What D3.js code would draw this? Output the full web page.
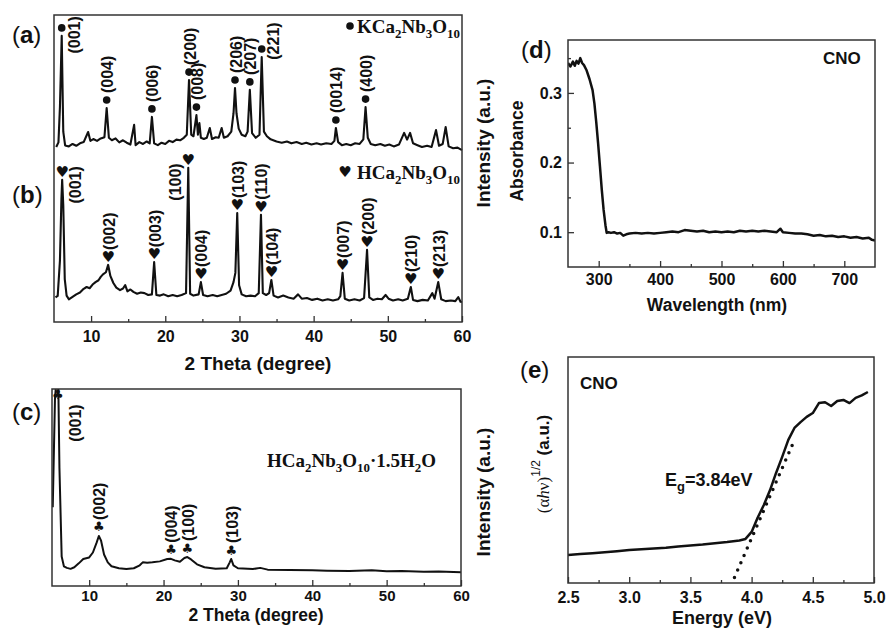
<!DOCTYPE html>
<html><head><meta charset="utf-8">
<script src="https://d3js.org/d3.v7.min.js"></script>
<style>
body { margin: 0; background: #fff; }
text { font-family: "Liberation Sans", Arial, sans-serif; fill: #111; }
.serif { font-family: "Liberation Serif", "Times New Roman", serif; }
.sym { font-family: "DejaVu Sans", sans-serif; }
</style></head><body>
<svg width="887" height="628"></svg>
<script>
// ---- data ----
// (a) KCa2Nb3O10 XRD, [2theta, intensity]
var kcnXrd = [[5.3,57],[5.6,58.5],[5.8,70],[6.04,93.2],[6.25,62],[6.5,57.5],[7,57.2],[7.5,58],[8,57.4],[8.5,58.2],[9,58.6],[9.6,61.9],[9.9,59],[10.3,59.6],[10.8,59],[11.3,59.8],[11.8,60.2],[12.1,69.7],[12.4,60],[12.8,59.2],[13.3,59.8],[13.8,58.5],[14.3,59.2],[14.8,58.4],[15.3,57.8],[15.8,64.2],[16.0,57.6],[16.5,58.6],[17,58],[17.5,58.8],[17.9,58.2],[18.2,66.8],[18.5,58.2],[19,57.6],[19.5,58.4],[20,58],[20.5,59],[21,58.6],[21.5,59.4],[22,59.2],[22.5,60],[22.9,61],[23.2,78.8],[23.5,61],[23.8,60.5],[24.2,67.4],[24.4,61],[24.6,64.8],[24.8,60],[25.2,59.6],[25.6,60],[26,63.2],[26.3,59.6],[26.8,60.2],[27.2,60],[27.6,63.2],[27.9,60],[28.4,60.5],[28.9,62],[29.2,68],[29.4,76.2],[29.6,68],[29.9,63],[30.3,61],[30.8,60.5],[31.1,62],[31.4,75.6],[31.7,61.5],[32.2,60],[32.7,61],[33.0,86.3],[33.3,62],[33.7,60.5],[34.2,59.5],[35,58.8],[35.7,58.4],[36.4,58.8],[37,58.2],[37.7,58.6],[38.4,58],[39,58.4],[39.7,57.8],[40.4,58.2],[41,57.8],[41.7,58.2],[42.4,58],[42.8,59],[43.0,63.2],[43.3,58.6],[43.8,57.6],[44.4,58],[45,57.6],[45.6,58.2],[46.2,58],[46.7,59.5],[47.0,70],[47.3,60],[47.7,58],[48.3,57.6],[49,58],[49.6,57.4],[50.2,57.8],[50.8,57.2],[51.5,57.8],[52.2,61.6],[52.6,59.4],[53.0,61.6],[53.4,58.2],[54,57.6],[54.6,57],[55.3,57.4],[55.9,57],[56.5,62.5],[56.9,57.4],[57.4,58],[57.8,63.5],[58.2,57.2],[58.8,56.6],[59.4,56.8],[60,56]];
// (b) HCa2Nb3O10 XRD
var hcnXrd = [[5.2,8],[5.5,8.5],[5.8,20],[6.0,40],[6.1,46.3],[6.25,38],[6.45,14],[6.7,8.6],[7,7.4],[7.5,8.2],[8,9],[8.5,9.6],[9,10.8],[9.4,11.4],[9.8,11],[10.2,12.2],[10.6,13],[11,13.6],[11.3,14.7],[11.6,15.5],[12,16.2],[12.3,18.6],[12.6,15],[13,12.7],[13.4,11.2],[13.9,10.4],[14.3,10.9],[14.6,12],[14.9,10],[15.3,10.6],[15.7,9.8],[16.2,9.2],[16.7,9.6],[17.2,9.4],[17.7,8.8],[18.2,9],[18.5,19.5],[18.8,8.8],[19.3,8.6],[19.8,9],[20.4,8.4],[21,8.8],[21.6,8.4],[22.2,8.8],[22.8,9.4],[23.1,50.2],[23.35,9.2],[23.8,8.6],[24.5,9],[24.8,13],[25.1,8.8],[25.7,8.4],[26.4,8.8],[27,8.4],[27.6,8.8],[28.2,9.2],[28.8,10.2],[29.2,13],[29.45,16],[29.7,35.5],[29.95,12],[30.3,9],[30.9,8.4],[31.5,8.6],[32.1,8.4],[32.6,9.4],[32.9,34.9],[33.15,9.4],[33.6,8.8],[34.0,9.4],[34.3,13.7],[34.6,8.6],[35.2,8],[35.9,8.6],[36.6,8],[37.3,7.6],[37.9,9],[38.4,7.6],[39.1,7.8],[39.8,7.2],[40.5,7.6],[41.2,7],[41.9,7.4],[42.6,7],[43.3,7.4],[43.6,8.4],[43.9,16],[44.2,7.6],[44.8,7],[45.5,7.4],[46.2,7],[46.8,7.8],[47.2,23.5],[47.5,8],[48,7.2],[48.6,7.6],[49.2,7.4],[49.7,8.8],[50.1,7.6],[50.7,7],[51.4,7.4],[52,7],[52.7,7.6],[53.1,11.4],[53.4,7.2],[54,6.8],[54.7,7.2],[55.4,7],[56.0,9.4],[56.3,7.6],[56.8,13],[57.2,7.4],[57.8,6.8],[58.5,7],[59.1,6.8],[59.5,8.1],[59.8,6.6],[60,6.5]];
// (c) HCa2Nb3O10·1.5H2O XRD
var hydXrd = [[5.1,40],[5.4,95],[5.8,115],[6.0,60],[6.3,15],[6.6,10],[7,9.2],[7.5,8.7],[8,9.5],[8.6,11.5],[9.2,13.7],[10,14.5],[10.5,17],[11,22],[11.3,25.4],[11.6,23],[12,16],[12.5,12],[13,10],[14,9],[15,8.6],[16,9],[16.8,10.5],[17.2,12],[17.8,11.8],[18.5,12],[19.5,12.5],[20.5,13.7],[21,13.8],[21.5,13],[22.2,12.3],[22.8,14.2],[23.2,14.7],[23.7,13.5],[24.5,11],[25.5,9.5],[27,8.8],[28.5,9],[28.9,12],[29.1,13.7],[29.4,10.5],[30,9],[32,8.6],[33,9.2],[34,8.3],[37,8.1],[40,8],[42,7.8],[45,7.6],[48,8],[50,7.5],[52,7.6],[55,7.2],[57,7.3],[60,7.0]];

var peaksA = [[6.04,"(001)"],[12.1,"(004)"],[18.2,"(006)"],[23.2,"(200)"],[24.2,"(008)"],[29.4,"(206)"],[31.4,"(207)"],[33.0,"(221)"],[43.0,"(0014)"],[47.0,"(400)"]];
var peaksB = [[6.1,"(001)"],[12.3,"(002)"],[18.5,"(003)"],[23.1,"(100)"],[24.8,"(004)"],[29.7,"(103)"],[32.9,"(110)"],[34.3,"(104)"],[43.9,"(007)"],[47.2,"(200)"],[53.1,"(210)"],[56.8,"(213)"]];
var peaksC = [[5.8,"(001)"],[11.3,"(002)"],[21.0,"(004)"],[23.2,"(100)"],[29.1,"(103)"]];

// (d) UV-vis absorbance, [wavelength nm, absorbance]
var uvAbs = [[250,0.343],[254,0.338],[258,0.345],[261,0.339],[264,0.346],[267,0.342],[270,0.35],[273,0.343],[276,0.34],[280,0.333],[285,0.32],[290,0.304],[293,0.285],[296,0.258],[299,0.228],[302,0.195],[305,0.161],[308,0.132],[311,0.11],[313,0.099],[316,0.1],[320,0.099],[325,0.1],[330,0.098],[335,0.099],[340,0.095],[345,0.097],[350,0.098],[360,0.099],[370,0.098],[380,0.099],[390,0.098],[400,0.099],[410,0.1],[420,0.101],[430,0.1],[440,0.103],[450,0.102],[460,0.101],[470,0.102],[480,0.1],[490,0.101],[500,0.1],[510,0.101],[520,0.1],[530,0.102],[540,0.101],[550,0.102],[560,0.101],[570,0.102],[580,0.101],[590,0.1],[596,0.105],[600,0.1],[610,0.099],[620,0.098],[630,0.098],[640,0.097],[650,0.095],[660,0.096],[670,0.094],[680,0.095],[690,0.093],[700,0.094],[710,0.092],[720,0.093],[730,0.091],[740,0.092],[745,0.089],[750,0.088]];
// (e) Tauc plot, [energy eV, (ahv)^1/2 a.u.]
var tauc = [[2.5,12.4],[2.6,12.8],[2.7,13.2],[2.8,13.6],[2.9,14.1],[3.0,14.6],[3.1,14.9],[3.2,15.3],[3.3,15.6],[3.4,16.2],[3.5,16.6],[3.6,17.0],[3.7,17.6],[3.8,18.1],[3.9,18.8],[3.95,19.5],[4.0,22.6],[4.05,29],[4.1,34.5],[4.15,41],[4.2,48.7],[4.25,55.8],[4.3,63.3],[4.35,68.6],[4.4,71.2],[4.45,73.5],[4.5,75.2],[4.55,79.6],[4.6,80],[4.65,78.3],[4.7,80.5],[4.75,81],[4.8,79.6],[4.85,81.9],[4.9,83],[4.95,84.5]];
var bandGap = 3.84, tangentSlope = 124, tangentEnd = 4.35;

var xrdTicks = [10,20,30,40,50,60], xrdMinor = [15,25,35,45,55];
var uvTicks = [300,400,500,600,700], uvMinor = [350,450,550,650];
var absTicks = [0.1,0.2,0.3], absMinor = [0.15,0.25,0.35];
var eTicks = [2.5,3.0,3.5,4.0,4.5,5.0], eMinor = [2.75,3.25,3.75,4.25,4.75];

// labels drawn beside the marker instead of above it
var besideLabels = { "a(001)": [13, 7], "a(221)": [12, -8], "b(001)": [13, 13], "b(100)": [-13, 22], "c(001)": [18, 29] };

var svg = d3.select("svg");
svg.append("rect").attr("width", 887).attr("height", 628).attr("fill", "#fff");

function frame(x0, y0, x1, y1) {
    svg.append("rect").attr("x", x0).attr("y", y0).attr("width", x1 - x0).attr("height", y1 - y0)
        .attr("fill", "none").attr("stroke", "#333").attr("stroke-width", 1.5);
}
function clip(id, x0, y0, x1, y1) {
    svg.append("clipPath").attr("id", id).append("rect")
        .attr("x", x0).attr("y", y0).attr("width", x1 - x0).attr("height", y1 - y0);
}
function styleAxis(a, size) {
    a.select(".domain").remove();
    a.selectAll("line").attr("stroke", "#333").attr("stroke-width", 1.3);
    a.selectAll("text").attr("font-size", size || 16).attr("font-weight", "bold");
}
function xAxis(scale, y, major, minor, pad, fmt, size) {
    styleAxis(svg.append("g").attr("transform", "translate(0," + y + ")")
        .call(d3.axisBottom(scale).tickValues(major).tickSize(-6).tickPadding(pad).tickFormat(fmt)), size);
    styleAxis(svg.append("g").attr("transform", "translate(0," + y + ")")
        .call(d3.axisBottom(scale).tickValues(minor).tickSize(-3).tickFormat("")));
}
function vText(x, y, str, size, anchor) {
    return svg.append("text").attr("transform", "translate(" + x + "," + y + ") rotate(-90)")
        .attr("text-anchor", anchor || "middle").attr("dominant-baseline", "central")
        .attr("font-size", size).attr("font-weight", "bold").text(str);
}
function panelLetter(x, y, ch) {
    var t = svg.append("text").attr("x", x).attr("y", y).attr("font-size", 24);
    t.append("tspan").text("(");
    t.append("tspan").attr("font-weight", "bold").text(ch);
    t.append("tspan").text(")");
}
function chem(x, y, parts, size) {
    var t = svg.append("text").attr("class", "serif").attr("x", x).attr("y", y)
        .attr("font-size", size).attr("font-weight", "bold");
    var sub = false;
    parts.forEach(function (p) {
        var isSub = p[1] === 1;
        var dy = isSub && !sub ? 5 : (!isSub && sub ? -5 : 0);
        t.append("tspan").attr("dy", dy).attr("font-size", isSub ? size * 0.68 : size).text(p[0]);
        sub = isSub;
    });
    return t;
}
function nearest(arr, x) {
    return arr.reduce(function (b, d) { return Math.abs(d[0] - x) < Math.abs(b[0] - x) ? d : b; });
}
function peakMarks(key, peaks, trace, xs, ys, sym, off, topLimit) {
    peaks.forEach(function (p) {
        var mx = xs(p[0]);
        var my = Math.max(ys(nearest(trace, p[0])[1]) - off, topLimit);
        if (sym === "dot") {
            svg.append("circle").attr("cx", mx).attr("cy", my).attr("r", 3.8).attr("fill", "#111");
        } else {
            svg.append("text").attr("class", "sym").attr("x", mx).attr("y", my)
                .attr("text-anchor", "middle").attr("dominant-baseline", "central")
                .attr("font-size", sym === "♥" ? 15 : 13).text(sym);
        }
        var side = besideLabels[key + p[1]];
        if (side) vText(mx + side[0], my + side[1], p[1], 16, "middle");
        else vText(mx + 1, my - 7, p[1], 16, "start");
    });
}

// ---- (a)/(b) ----
var xAB = d3.scaleLinear().domain([5, 60]).range([54, 462]);
var yAB = d3.scaleLinear().domain([0, 100]).range([322, 15]);
var line = function (xs, ys) { return d3.line().x(function (d) { return xs(d[0]); }).y(function (d) { return ys(d[1]); }); };
[kcnXrd, hcnXrd].forEach(function (tr) {
    svg.append("path").attr("d", line(xAB, yAB)(tr)).attr("fill", "none")
        .attr("stroke", "#111").attr("stroke-width", 2.1).attr("stroke-linejoin", "round");
});
frame(54, 15, 462, 322);
xAxis(xAB, 322, xrdTicks, xrdMinor, 9, d3.format("d"));
peakMarks("a", peaksA, kcnXrd, xAB, yAB, "dot", 8, 20);
peakMarks("b", peaksB, hcnXrd, xAB, yAB, "♥", 8, 160);
svg.append("circle").attr("cx", 350).attr("cy", 26).attr("r", 3.8).attr("fill", "#111");
chem(357, 33, [["KCa",0],["2",1],["Nb",0],["3",1],["O",0],["10",1]], 19);
svg.append("text").attr("class", "sym").attr("x", 345).attr("y", 172).attr("text-anchor", "middle")
    .attr("dominant-baseline", "central").attr("font-size", 15).text("♥");
chem(357, 179, [["HCa",0],["2",1],["Nb",0],["3",1],["O",0],["10",1]], 19);
svg.append("text").attr("x", 258).attr("y", 370).attr("text-anchor", "middle")
    .attr("font-size", 19).attr("font-weight", "bold").text("2 Theta (degree)");
vText(483, 143, "Intensity (a.u.)", 19);
panelLetter(12, 43, "a");
panelLetter(12, 203, "b");

// ---- (c) ----
var xC = d3.scaleLinear().domain([5, 60]).range([52, 461]);
var yC = d3.scaleLinear().domain([0, 100]).range([586, 389]);
clip("clipC", 52, 389, 461, 586);
svg.append("path").attr("d", line(xC, yC)(hydXrd)).attr("clip-path", "url(#clipC)").attr("fill", "none")
    .attr("stroke", "#111").attr("stroke-width", 2).attr("stroke-linejoin", "round");
frame(52, 389, 461, 586);
xAxis(xC, 586, xrdTicks, xrdMinor, 4, d3.format("d"), 15);
peakMarks("c", peaksC, hydXrd, xC, yC, "♣", 9, 394);
chem(267, 467, [["HCa",0],["2",1],["Nb",0],["3",1],["O",0],["10",1],["·1.5H",0],["2",1],["O",0]], 19);
svg.append("text").attr("x", 256).attr("y", 621).attr("text-anchor", "middle")
    .attr("font-size", 17.5).attr("font-weight", "bold").text("2 Theta (degree)");
vText(483, 492, "Intensity (a.u.)", 19);
panelLetter(12, 420, "c");

// ---- (d) ----
var xD = d3.scaleLinear().domain([250, 750]).range([568, 875]);
var yD = d3.scaleLinear().domain([0.05, 0.376]).range([267, 40]);
clip("clipD", 568, 40, 875, 267);
svg.append("path").attr("d", line(xD, yD)(uvAbs)).attr("clip-path", "url(#clipD)").attr("fill", "none")
    .attr("stroke", "#111").attr("stroke-width", 2.5).attr("stroke-linejoin", "round");
frame(568, 40, 875, 267);
xAxis(xD, 267, uvTicks, uvMinor, 7, d3.format("d"));
styleAxis(svg.append("g").attr("transform", "translate(568,0)")
    .call(d3.axisLeft(yD).tickValues(absTicks).tickSize(-6).tickPadding(6).tickFormat(d3.format(".1f"))));
styleAxis(svg.append("g").attr("transform", "translate(568,0)")
    .call(d3.axisLeft(yD).tickValues(absMinor).tickSize(-3).tickFormat("")));
vText(517, 151, "Absorbance", 17.5);
svg.append("text").attr("x", 717).attr("y", 311).attr("text-anchor", "middle")
    .attr("font-size", 17.5).attr("font-weight", "bold").text("Wavelength (nm)");
svg.append("text").attr("x", 823).attr("y", 64).attr("font-size", 17).attr("font-weight", "bold").text("CNO");
panelLetter(521, 58, "d");

// ---- (e) ----
var xE = d3.scaleLinear().domain([2.5, 5.0]).range([568, 874]);
var yE = d3.scaleLinear().domain([0, 100]).range([583, 357]);
clip("clipE", 568, 357, 874, 583);
svg.append("path").attr("d", line(xE, yE)(tauc)).attr("clip-path", "url(#clipE)").attr("fill", "none")
    .attr("stroke", "#111").attr("stroke-width", 2.5).attr("stroke-linejoin", "round");
var tangent = [bandGap + 0.02, tangentEnd].map(function (e) { return [e, (e - bandGap) * tangentSlope]; });
svg.append("path").attr("d", line(xE, yE)(tangent)).attr("fill", "none").attr("stroke", "#111")
    .attr("stroke-width", 3.5).attr("stroke-linecap", "round").attr("stroke-dasharray", "0,8");
frame(568, 357, 874, 583);
xAxis(xE, 583, eTicks, eMinor, 9, d3.format(".1f"));
svg.append("text").attr("x", 722).attr("y", 624).attr("text-anchor", "middle")
    .attr("font-size", 18).attr("font-weight", "bold").text("Energy (eV)");
svg.append("text").attr("x", 580).attr("y", 389).attr("font-size", 17).attr("font-weight", "bold").text("CNO");
var eg = svg.append("text").attr("x", 665).attr("y", 486).attr("font-size", 18).attr("font-weight", "bold");
eg.append("tspan").text("E");
eg.append("tspan").attr("dy", 5).attr("font-size", 13).text("g");
eg.append("tspan").attr("dy", -5).text("=3.84eV");
var yl = svg.append("text").attr("transform", "translate(543,464) rotate(-90)").attr("text-anchor", "middle")
    .attr("dominant-baseline", "central").attr("font-size", 17);
yl.append("tspan").attr("class", "serif").text("(α");
yl.append("tspan").attr("class", "serif").attr("font-style", "italic").text("h");
yl.append("tspan").attr("class", "serif").text("ν)");
yl.append("tspan").attr("dy", -7).attr("font-size", 12).text("1/2");
yl.append("tspan").attr("dy", 7).attr("font-weight", "bold").text(" (a.u.)");
panelLetter(520, 378, "e");
</script>
</body></html>
